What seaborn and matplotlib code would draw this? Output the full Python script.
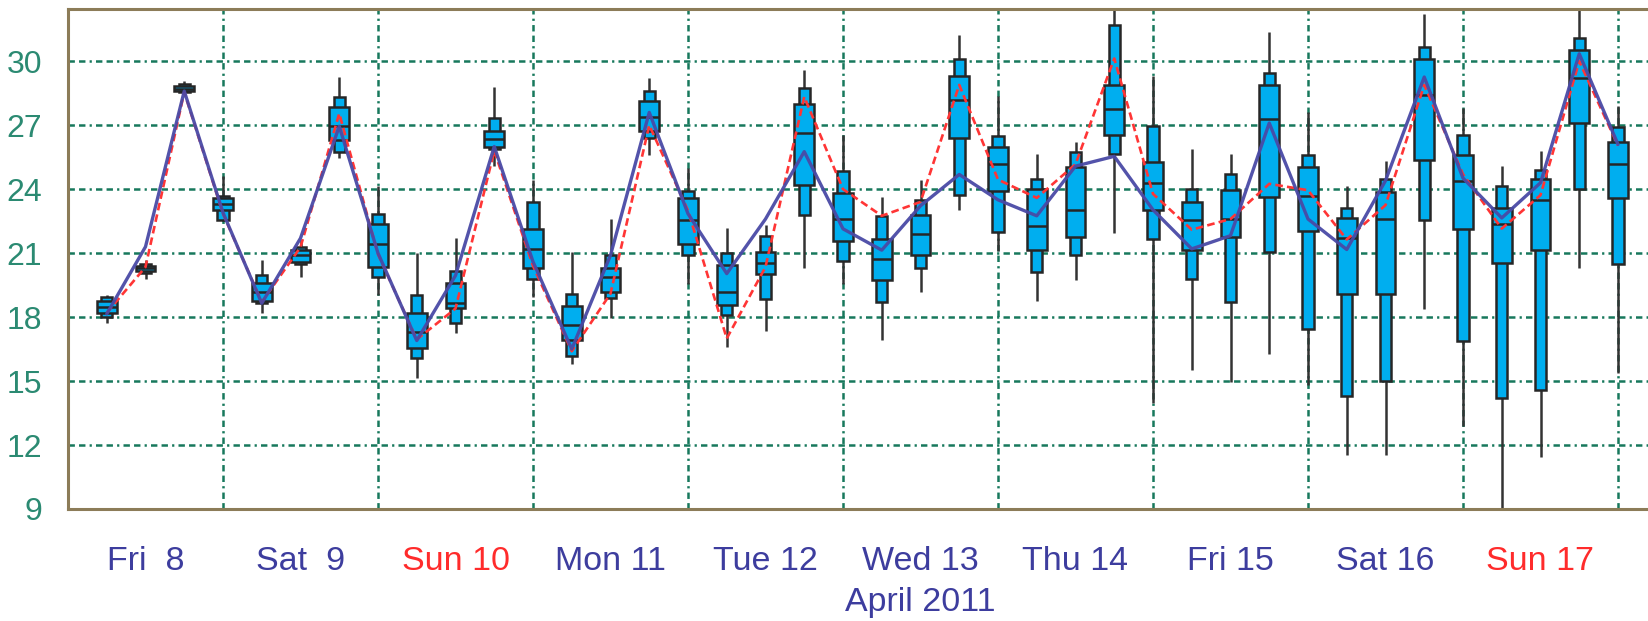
import numpy as np
import pandas as pd
import matplotlib
matplotlib.use("Agg")
import matplotlib.pyplot as plt
import seaborn as sns

# ---------------- data ----------------
start = pd.Timestamp("2011-04-08 00:00")
times = pd.date_range("2011-04-08 06:00", periods=40, freq="6h")

whisk_hi = [19.04, 20.7, 29.07, 24.6, 20.7, 21.6, 29.26, 24.15, 20.99, 21.73,
            28.8, 24.43, 21.03, 22.62, 29.22, 24.98, 22.18, 22.3, 29.58, 26.56,
            23.63, 24.43, 31.25, 28.35, 25.64, 26.23, 32.6, 29.3, 25.88, 25.67,
            31.36, 27.6, 24.15, 25.3, 32.23, 27.83, 25.1, 25.78, 32.4, 27.9]
p90 = [18.94, 20.5, 28.94, 23.7, 19.97, 21.27, 28.33, 22.85, 19.04, 20.15,
       27.35, 23.4, 19.09, 20.9, 28.6, 23.9, 21.0, 21.8, 28.76, 24.86,
       22.75, 23.5, 30.1, 26.5, 24.48, 25.73, 31.68, 26.97, 24.0, 24.73,
       29.45, 25.62, 23.14, 24.48, 30.65, 26.53, 24.16, 24.92, 31.1, 26.9]
q3 = [18.76, 20.4, 28.85, 23.6, 19.6, 21.17, 27.87, 22.38, 18.2, 19.6,
      26.75, 22.14, 18.53, 20.32, 28.14, 23.6, 20.45, 21.03, 28.0, 23.8,
      21.68, 22.81, 29.3, 25.97, 24.0, 25.04, 28.89, 25.26, 23.38, 23.94,
      28.89, 25.04, 22.66, 23.85, 30.1, 25.62, 23.12, 24.48, 30.55, 26.2]
median = [18.48, 20.28, 28.68, 23.3, 19.2, 20.9, 26.97, 21.45, 17.3, 18.67,
          26.34, 21.2, 17.64, 19.87, 27.4, 22.57, 19.2, 20.56, 26.62, 22.6,
          20.71, 21.92, 28.2, 25.2, 22.25, 23.03, 27.77, 24.3, 22.54, 22.6,
          27.3, 23.7, 21.73, 22.6, 28.42, 24.37, 22.38, 23.48, 29.2, 25.2]
q1 = [18.2, 20.15, 28.6, 23.03, 18.76, 20.6, 26.29, 20.34, 16.53, 18.42,
      25.97, 20.28, 16.94, 19.17, 26.75, 21.45, 18.58, 20.0, 24.2, 21.55,
      19.76, 20.9, 26.42, 23.93, 21.14, 21.77, 26.53, 23.03, 21.13, 21.76,
      23.63, 22.02, 19.09, 19.09, 25.36, 22.13, 20.56, 21.16, 27.1, 23.6]
p10 = [18.0, 20.06, 28.57, 22.57, 18.67, 20.5, 25.73, 19.87, 16.06, 17.74,
       25.9, 19.78, 16.16, 18.9, 26.42, 20.9, 18.1, 18.86, 22.79, 20.65,
       18.72, 20.28, 23.73, 22.0, 20.1, 20.9, 25.64, 21.68, 19.78, 18.69,
       21.03, 17.43, 14.3, 14.98, 22.57, 16.86, 14.2, 14.6, 24.0, 20.47]
whisk_lo = [17.74, 19.8, 28.5, 22.5, 18.2, 19.87, 25.45, 19.04, 15.13, 17.27,
            25.1, 18.94, 15.82, 17.98, 25.6, 19.54, 16.6, 17.37, 20.3, 19.54,
            16.94, 19.17, 23.0, 21.08, 18.76, 19.72, 21.96, 13.96, 15.5, 14.95,
            16.28, 14.82, 11.55, 11.55, 18.37, 12.9, 9.0, 11.42, 20.28, 15.38]
blue_line = [18.15, 21.3, 28.6, 22.9, 18.65, 21.7, 26.95, 21.0, 16.9, 19.95,
             26.0, 20.6, 16.5, 20.9, 27.6, 22.85, 20.04, 22.6, 25.76, 22.14,
             21.14, 23.22, 24.69, 23.5, 22.75, 25.08, 25.54, 23.03, 21.2, 21.82,
             27.1, 22.6, 21.17, 24.4, 29.26, 24.52, 22.65, 24.3, 30.35, 26.1]
red_line = [18.2, 20.35, 28.55, 22.85, 18.7, 21.28, 27.55, 20.95, 16.95, 18.4,
            25.8, 20.4, 16.4, 19.1, 27.0, 23.0, 17.0, 20.35, 28.33, 24.0,
            22.75, 23.4, 28.89, 24.45, 23.59, 25.17, 30.13, 23.78, 22.1, 22.6,
            24.25, 23.95, 21.64, 23.25, 28.89, 24.7, 22.15, 23.72, 30.0, 26.04]

day_labels = ["Fri  8", "Sat  9", "Sun 10", "Mon 11", "Tue 12",
              "Wed 13", "Thu 14", "Fri 15", "Sat 16", "Sun 17"]
month_label = "April 2011"
y_ticks = [9, 12, 15, 18, 21, 24, 27, 30]

# ---------------- style ----------------
sns.set_style("white")
plt.rcParams["font.family"] = ["Liberation Sans", "DejaVu Sans"]
plt.rcParams["lines.scale_dashes"] = False

GRID = "#17785c"
SPINE = "#8c7c58"
YLAB = "#2b8a72"
XLAB = "#3d3d9e"
SUNRED = "#ff2b2b"
BOX = "#00aeef"
EDGE = "#262626"

df = pd.DataFrame({
    "t": (times - start) / pd.Timedelta("1D"),
    "hi": whisk_hi, "p90": p90, "q3": q3, "med": median,
    "q1": q1, "p10": p10, "lo": whisk_lo,
    "blue": blue_line, "red": red_line,
})

fig = plt.figure(figsize=(16.49, 6.21), dpi=100)
ax = fig.add_axes([68 / 1649, 112 / 621, 1581 / 1649, 500 / 621])

wide_w = 0.129
narrow_w = 0.071

# whiskers
ax.vlines(df["t"], df["lo"], df["hi"], color="#333333", lw=1.8, zorder=2)
# outer (10-90) narrow boxes
ax.bar(df["t"], df["p90"] - df["p10"], bottom=df["p10"], width=narrow_w,
       color=BOX, edgecolor=EDGE, linewidth=1.8, zorder=3)
# inner (25-75) wide boxes
ax.bar(df["t"], df["q3"] - df["q1"], bottom=df["q1"], width=wide_w,
       color=BOX, edgecolor=EDGE, linewidth=1.8, zorder=4)
# medians
ax.hlines(df["med"], df["t"] - wide_w / 2, df["t"] + wide_w / 2,
          color=EDGE, lw=1.8, zorder=5)

# lines
sns.lineplot(data=df, x="t", y="blue", ax=ax, color="#4a4aa6", lw=2.4,
             zorder=7, alpha=0.95)
sns.lineplot(data=df, x="t", y="red", ax=ax, color="#ff3535", lw=1.9,
             zorder=6, dashes=False, linestyle=(0, (5.5, 3)))

# axes limits & ticks
ax.set_xlim(0, 10.2)
ax.set_ylim(9, 32.45)
ax.set_xticks(np.arange(0, 11, 1))
ax.set_xticks(np.arange(0, 10.21, 0.25), minor=True)
ax.set_xticklabels([])
ax.set_yticks(y_ticks)
ax.set_yticklabels([str(v) for v in y_ticks])
ax.set_xlabel("")
ax.set_ylabel("")

ax.tick_params(axis="x", which="major", direction="out", length=13, width=1.7,
               color=GRID)
ax.tick_params(axis="x", which="minor", direction="out", length=8.5, width=1.7,
               color=GRID)
ax.tick_params(axis="y", which="major", direction="out", length=13.5, width=1.7,
               color=GRID, labelsize=23, labelcolor=YLAB, pad=5)

dash = (0, (4.6, 3.0, 4.6, 3.0, 1.6, 3.0))
for yv in y_ticks[1:]:
    ax.axhline(yv, color=GRID, lw=1.8, linestyle=dash, zorder=0)
for xv in range(1, 11):
    ax.axvline(xv, color=GRID, lw=1.8, linestyle=dash, zorder=0)

for side in ["left", "bottom", "top"]:
    ax.spines[side].set_color(SPINE)
    ax.spines[side].set_linewidth(2.2)
ax.spines["right"].set_visible(False)

for i, lab in enumerate(day_labels):
    col = SUNRED if lab.startswith("Sun") else XLAB
    ax.text(i + 0.5, -0.104, lab, transform=ax.get_xaxis_transform(),
            ha="center", va="center", fontsize=24.5, color=col)
ax.text(5.5, -0.186, month_label, transform=ax.get_xaxis_transform(),
        ha="center", va="center", fontsize=24.5, color=XLAB)

fig.savefig("out.png", dpi=100)
